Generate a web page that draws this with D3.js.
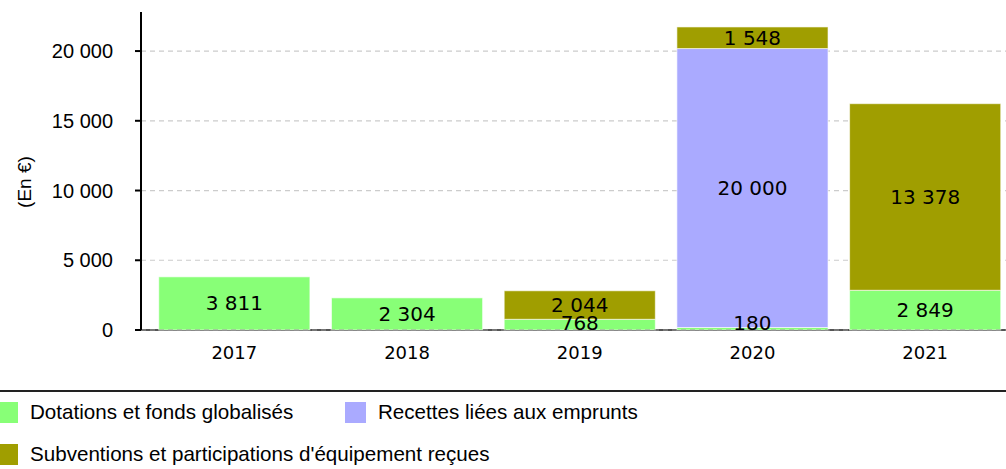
<!DOCTYPE html>
<html>
<head>
<meta charset="utf-8">
<script src="https://cdn.jsdelivr.net/npm/d3@7/dist/d3.min.js"></script>
<style>
    body { margin: 0; background: #fff; }
    svg text { fill: #000; }
    .tick-y { font-family: "Liberation Sans", Arial, sans-serif; font-size: 20px; }
    .year { font-family: "DejaVu Sans", sans-serif; font-size: 18px; }
    .val { font-family: "DejaVu Sans", sans-serif; font-size: 20px; }
    .legend text { font-family: "Liberation Sans", Arial, sans-serif; font-size: 20.6px; }
</style>
</head>
<body>
<svg id="view" width="1006" height="469"></svg>
<script>
const Years = ['2017', '2018', '2019', '2020', '2021'];

const SeriesNames = [
    'Dotations et fonds globalisés',
    'Recettes liées aux emprunts',
    "Subventions et participations d'équipement reçues"
];

const SeriesColors = ['#88ff77', '#aaaaff', '#a09e00'];

// valeurs par série, dans l'ordre des années
const Dotations = [3811, 2304, 768, 180, 2849];
const Emprunts = [0, 0, 0, 20000, 0];
const Subventions = [0, 0, 2044, 1548, 13378];

const YTicks = [0, 5000, 10000, 15000, 20000];
const YMax = 22800;

function fmt(v) {
    return d3.format(',')(v).replace(/,/g, ' ');
}

function draw() {
    var svg = d3.select('svg#view');
    const width = +svg.attr('width');

    var x = d3.scaleBand()
        .domain(Years)
        .range([141.5, 1018])
        .paddingInner(0.125)
        .paddingOuter(0.1);

    var y = d3.scaleLinear()
        .domain([0, YMax])
        .range([330, 12]);

    // grille
    svg.append('g')
        .selectAll('line')
        .data(YTicks)
        .enter()
        .append('line')
        .attr('x1', 141)
        .attr('x2', width)
        .attr('y1', function(d) { return y(d); })
        .attr('y2', function(d) { return y(d); })
        .attr('stroke', function(d) { return d === 0 ? '#555' : '#ccc'; })
        .attr('stroke-width', function(d) { return d === 0 ? 2 : 1.2; })
        .attr('stroke-dasharray', function(d) { return d === 0 ? null : '5,4'; });

    // barres empilées
    var rows = Years.map(function(yr, i) {
        return { year: yr, d: Dotations[i], e: Emprunts[i], s: Subventions[i] };
    });
    var stack = d3.stack().keys(['d', 'e', 's'])(rows);

    var segments = [];
    stack.forEach(function(layer, k) {
        layer.forEach(function(p) {
            if (p[1] > p[0]) {
                segments.push({ year: p.data.year, y0: p[0], y1: p[1], k: k });
            }
        });
    });

    svg.append('g')
        .selectAll('rect')
        .data(segments)
        .enter()
        .append('rect')
        .attr('x', function(s) { return x(s.year); })
        .attr('width', x.bandwidth())
        .attr('y', function(s) { return y(s.y1); })
        .attr('height', function(s) { return y(s.y0) - y(s.y1); })
        .attr('fill', function(s) { return SeriesColors[s.k]; })
        .attr('stroke', 'rgba(255,255,255,0.6)')
        .attr('stroke-width', 1);

    // ligne du zéro par-dessus, en pointillés
    svg.append('line')
        .attr('x1', 141).attr('x2', width)
        .attr('y1', y(0)).attr('y2', y(0))
        .attr('stroke', '#999')
        .attr('stroke-width', 1)
        .attr('stroke-dasharray', '5,4');

    // étiquettes de valeurs, au-dessus de toutes les barres
    svg.append('g')
        .selectAll('text')
        .data(segments)
        .enter()
        .append('text')
        .attr('class', 'val')
        .attr('text-anchor', 'middle')
        .attr('dominant-baseline', 'central')
        .attr('x', function(s) { return x(s.year) + x.bandwidth() / 2; })
        .attr('y', function(s) {
            var c = (y(s.y0) + y(s.y1)) / 2;
            return Math.min(c, y(0) - 7);
        })
        .text(function(s) { return fmt(s.y1 - s.y0); });

    // axe Y
    var axisY = svg.append('g');
    axisY.append('line')
        .attr('x1', 141).attr('x2', 141)
        .attr('y1', y.range()[1]).attr('y2', y(0))
        .attr('stroke', '#000')
        .attr('stroke-width', 2);
    axisY.selectAll('line.tick')
        .data(YTicks)
        .enter()
        .append('line')
        .attr('class', 'tick')
        .attr('x1', 135).attr('x2', 141)
        .attr('y1', function(d) { return y(d); })
        .attr('y2', function(d) { return y(d); })
        .attr('stroke', '#000')
        .attr('stroke-width', 2);
    axisY.selectAll('text')
        .data(YTicks)
        .enter()
        .append('text')
        .attr('class', 'tick-y')
        .attr('text-anchor', 'end')
        .attr('dominant-baseline', 'central')
        .attr('x', 113)
        .attr('y', function(d) { return y(d); })
        .text(fmt);

    svg.append('text')
        .attr('class', 'tick-y')
        .attr('text-anchor', 'middle')
        .attr('transform', 'translate(31,182) rotate(-90)')
        .style('font-size', '19px')
        .text('(En €)');

    // années
    svg.append('g')
        .selectAll('text')
        .data(Years)
        .enter()
        .append('text')
        .attr('class', 'year')
        .attr('text-anchor', 'middle')
        .attr('x', function(d) { return x(d) + x.bandwidth() / 2; })
        .attr('y', 359)
        .text(function(d) { return d; });

    // légende
    svg.append('line')
        .attr('x1', 0).attr('x2', width)
        .attr('y1', 391).attr('y2', 391)
        .attr('stroke', '#222')
        .attr('stroke-width', 2);

    var legendPos = [[0, 402], [348, 402], [0, 444]];
    var legend = svg.append('g')
        .attr('class', 'legend')
        .selectAll('g')
        .data(SeriesNames)
        .enter()
        .append('g')
        .attr('transform', function(d, i) {
            return 'translate(' + legendPos[i][0] + ',' + legendPos[i][1] + ')';
        });
    legend.append('rect')
        .attr('width', 21)
        .attr('height', 21)
        .attr('x', -3)
        .attr('fill', function(d, i) { return SeriesColors[i]; });
    legend.append('text')
        .attr('x', 30)
        .attr('y', 17)
        .text(function(d) { return d; });
}

draw();
</script>
</body>
</html>
